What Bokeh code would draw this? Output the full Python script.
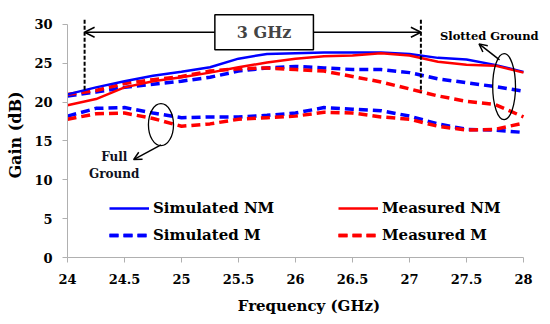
from bokeh.plotting import figure
from bokeh.models import (Range1d, FixedTicker, Legend, LegendItem, Label, Arrow,
                          OpenHead)
from bokeh.embed import file_html
from bokeh.resources import INLINE

# ---------------- data ----------------
freq = [24, 24.25, 24.5, 24.75, 25, 25.25, 25.5, 25.75, 26, 26.25, 26.5,
        26.75, 27, 27.25, 27.5, 27.75, 28]

# slotted ground
sim_nm = [21.0, 21.9, 22.7, 23.4, 23.9, 24.5, 25.6, 26.2, 26.3, 26.4, 26.4,
          26.4, 26.2, 25.7, 25.5, 24.8, 23.9]
meas_nm = [19.6, 20.4, 21.9, 22.7, 23.2, 23.8, 24.5, 25.1, 25.6, 25.9, 26.0,
           26.3, 26.0, 25.2, 24.8, 24.7, 23.8]
sim_m = [20.8, 21.3, 21.9, 22.3, 22.7, 23.2, 24.0, 24.4, 24.6, 24.4, 24.2,
         24.2, 23.8, 23.0, 22.5, 22.0, 21.4]
meas_m = [21.0, 21.5, 22.4, 22.9, 23.3, 24.0, 24.3, 24.4, 24.2, 24.0, 23.3,
          22.6, 21.7, 20.8, 20.1, 19.7, 18.1]

# full ground
sim_m_full = [18.2, 19.2, 19.3, 18.6, 18.0, 18.1, 18.1, 18.3, 18.6, 19.3, 19.1,
              18.9, 18.2, 17.2, 16.5, 16.4, 16.1]
meas_m_full = [17.8, 18.5, 18.6, 17.9, 16.9, 17.2, 17.8, 18.0, 18.2, 18.7, 18.6,
               18.1, 17.8, 16.9, 16.4, 16.5, 17.3]

x_ticks = [24, 24.5, 25, 25.5, 26, 26.5, 27, 27.5, 28]
x_tick_labels = ["24", "24.5", "25", "25.5", "26", "26.5", "27", "27.5", "28"]
y_ticks = [0, 5, 10, 15, 20, 25, 30]

band_start = 24.15
band_end = 27.1
band_label = "3 GHz"

BLUE = "#0000ff"
RED = "#ff0000"
FONT = "DejaVu Serif"

# ranges reach a little past the axes so the annotations above / right are not clipped
p = figure(width=550, height=324, output_backend="svg", toolbar_location=None,
           x_range=Range1d(24, 28.237), y_range=Range1d(0, 31.54),
           min_border_left=67, min_border_right=0, min_border_top=12,
           min_border_bottom=67)
p.outline_line_color = None
p.xgrid.grid_line_color = None
p.ygrid.grid_line_color = None
p.background_fill_color = "white"
p.border_fill_color = "white"

for ax in (p.xaxis[0], p.yaxis[0]):
    ax.axis_line_color = "#b0b0b0"
    ax.axis_line_width = 1
    ax.major_tick_line_color = "#b0b0b0"
    ax.major_tick_in = 0
    ax.major_tick_out = 5
    ax.minor_tick_line_color = None
    ax.major_label_text_font = FONT
    ax.major_label_text_font_style = "bold"
    ax.major_label_text_font_size = "13px"
    ax.major_label_text_color = "black"
    ax.axis_label_text_font = FONT
    ax.axis_label_text_font_style = "bold"
    ax.axis_label_text_color = "black"

p.xaxis[0].bounds = (24, 28)
p.yaxis[0].bounds = (0, 30)
p.xaxis[0].ticker = FixedTicker(ticks=x_ticks)
p.xaxis[0].major_label_overrides = {t: l for t, l in zip(x_ticks, x_tick_labels)}
p.yaxis[0].ticker = FixedTicker(ticks=y_ticks)
p.xaxis[0].axis_label = "Frequency (GHz)"
p.yaxis[0].axis_label = "Gain (dB)"
p.xaxis[0].axis_label_text_font_size = "15px"
p.yaxis[0].axis_label_text_font_size = "16px"
p.xaxis[0].major_label_standoff = 11
p.yaxis[0].major_label_standoff = 10
p.xaxis[0].axis_label_standoff = 10
p.yaxis[0].axis_label_standoff = 6

DASH = "9 5"
r_smf = p.line(freq, sim_m_full, line_color=BLUE, line_width=3.5, line_dash=DASH)
r_mmf = p.line(freq, meas_m_full, line_color=RED, line_width=3.5, line_dash=DASH)
r_sm = p.line(freq, sim_m, line_color=BLUE, line_width=3.5, line_dash=DASH)
r_mm = p.line(freq, meas_m, line_color=RED, line_width=3.5, line_dash=DASH)
r_snm = p.line(freq, sim_nm, line_color=BLUE, line_width=2.5)
r_mnm = p.line(freq, meas_nm, line_color=RED, line_width=2.5)

# ellipses marking groups
p.ellipse(x=[27.83], y=[22.0], width=[0.2], height=[8.5], fill_color=None,
          line_color="black", line_width=1.3)
p.ellipse(x=[24.82], y=[17.1], width=[0.22], height=[5.4], fill_color=None,
          line_color="black", line_width=1.3)

# band markers
for xb, yb in ((band_start, 21.4), (band_end, 21.2)):
    p.add_layout(Arrow(end=None, x_start=xb, y_start=30.6, x_end=xb, y_end=yb,
                       line_color="black", line_width=2, line_dash="4 2"))
p.add_layout(Arrow(end=OpenHead(size=10, line_width=1.5), x_start=25.30,
                   y_start=29.0, x_end=band_start, y_end=29.0,
                   line_color="black", line_width=1.5))
p.add_layout(Arrow(end=OpenHead(size=10, line_width=1.5), x_start=26.15,
                   y_start=29.0, x_end=band_end, y_end=29.0,
                   line_color="black", line_width=1.5))
p.add_layout(Label(x=25.725, y=29.0, text=band_label, text_align="center",
                   text_baseline="middle", text_font=FONT,
                   text_font_style="bold", text_font_size="16px",
                   background_fill_color="white", border_line_color="black",
                   border_line_width=1.5, padding=(22, 8)))

# annotations
p.add_layout(Label(x=27.70, y=28.57, text="Slotted Ground", text_align="center",
                   text_baseline="middle", text_font=FONT,
                   text_font_style="bold", text_font_size="11.5px",
                   text_color="black"))
p.add_layout(Arrow(end=OpenHead(size=8, line_width=1.5), x_start=27.79,
                   y_start=25.44, x_end=27.61, y_end=27.5,
                   line_color="black", line_width=1.5))
p.add_layout(Label(x=24.41, y=13.0, text="Full", text_align="center",
                   text_baseline="middle", text_font=FONT,
                   text_font_style="bold", text_font_size="12px",
                   text_color="#101020"))
p.add_layout(Label(x=24.41, y=10.8, text="Ground", text_align="center",
                   text_baseline="middle", text_font=FONT,
                   text_font_style="bold", text_font_size="12px",
                   text_color="#101020"))
p.add_layout(Arrow(end=OpenHead(size=8, line_width=1.5), x_start=24.82,
                   y_start=14.5, x_end=24.58, y_end=12.6,
                   line_color="black", line_width=1.5))

def make_legend(items, loc):
    lg = Legend(items=items, location=loc, orientation="vertical",
                border_line_color=None, background_fill_alpha=0,
                padding=0, margin=0, spacing=7, glyph_width=40,
                glyph_height=20, label_height=20, label_standoff=4,
                label_text_font=FONT, label_text_font_style="bold",
                label_text_font_size="15px", label_text_color="black")
    p.add_layout(lg)

make_legend([LegendItem(label="Simulated NM", renderers=[r_snm]),
             LegendItem(label="Simulated M", renderers=[r_sm, r_smf])], (42, 12))
make_legend([LegendItem(label="Measured NM", renderers=[r_mnm]),
             LegendItem(label="Measured M", renderers=[r_mm, r_mmf])], (271, 12))

open("out.html", "w").write(file_html(p, INLINE))
